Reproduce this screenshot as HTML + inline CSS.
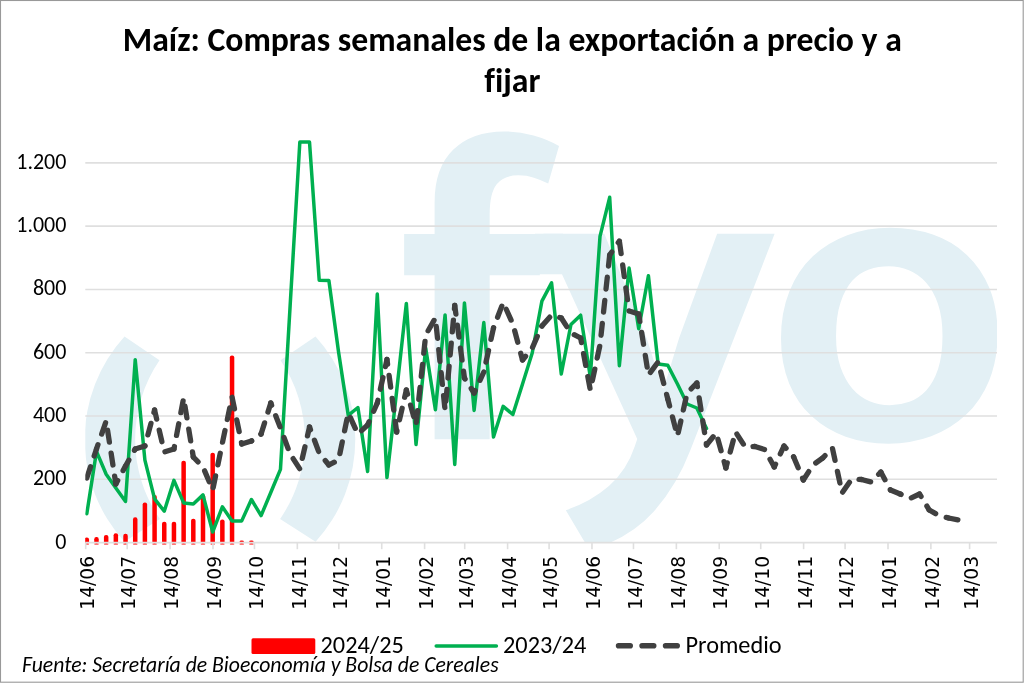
<!DOCTYPE html>
<html><head><meta charset="utf-8"><title>Maíz: Compras semanales</title>
<style>
html,body{margin:0;padding:0;background:#fff;}
body{width:1024px;height:683px;overflow:hidden;}
svg{display:block;font-variant-ligatures:none;font-kerning:normal;will-change:transform;}
.cal{font-family:Carlito,"Liberation Sans",sans-serif;}
.dj{font-family:"DejaVu Sans","Liberation Sans",sans-serif;}
</style></head><body>
<svg width="1024" height="683" viewBox="0 0 1024 683">
<rect x="0" y="0" width="1024" height="683" fill="#fff"/>

<defs><clipPath id="pc"><rect x="85.3" y="100" width="911.7" height="442.6"/></clipPath><clipPath id="pcb"><rect x="85.2" y="100" width="911.7" height="446"/></clipPath></defs>
<g fill="#E3F0F5" clip-path="url(#pc)">
<path d="M315.5,336.6 A152.3,152.3 0 0 1 315.6,541.8 L280.1,518.9 A140.3,140.3 0 0 0 280.5,360.3 Z"/>
<path d="M124.5,336.6 A152.3,152.3 0 0 0 124.4,541.8 L159.9,518.9 A140.3,140.3 0 0 1 159.5,360.3 Z"/>
<rect x="535" y="233.7" width="28" height="40.6"/>
<text transform="translate(397.4,439.3) scale(0.97,1)" font-family="Mukta, &quot;DejaVu Sans&quot;, sans-serif" font-weight="700" font-size="430.6">f</text>
<text transform="translate(539.7,439.3) scale(1.10,1)" font-family="Mukta, &quot;DejaVu Sans&quot;, sans-serif" font-weight="600" font-size="432.4">y</text>
<text transform="translate(764.8,439.3) scale(1.043,1.011)" font-family="Mukta, &quot;DejaVu Sans&quot;, sans-serif" font-weight="600" font-size="432.4">o</text>

</g>
<g stroke="#DFDFDF" stroke-width="1.6" fill="none">
<line x1="85.3" y1="479.31" x2="997" y2="479.31"/>
<line x1="85.3" y1="416.02" x2="997" y2="416.02"/>
<line x1="85.3" y1="352.73" x2="997" y2="352.73"/>
<line x1="85.3" y1="289.43" x2="997" y2="289.43"/>
<line x1="85.3" y1="226.14" x2="997" y2="226.14"/>
<line x1="85.3" y1="162.85" x2="997" y2="162.85"/>
</g>
<g fill="#FF0000" clip-path="url(#pcb)">
<rect x="84.55" y="537.50" width="4.5" height="5.90" rx="2.1" ry="2.1"/>
<rect x="84.55" y="543.3" width="4.5" height="1.5" rx="0.7" opacity="0.7"/>
<rect x="94.23" y="537.10" width="4.5" height="6.30" rx="2.1" ry="2.1"/>
<rect x="94.23" y="543.3" width="4.5" height="1.5" rx="0.7" opacity="0.7"/>
<rect x="103.92" y="535.00" width="4.5" height="8.40" rx="2.1" ry="2.1"/>
<rect x="103.92" y="543.3" width="4.5" height="1.5" rx="0.7" opacity="0.7"/>
<rect x="113.60" y="533.20" width="4.5" height="10.20" rx="2.1" ry="2.1"/>
<rect x="113.60" y="543.3" width="4.5" height="1.5" rx="0.7" opacity="0.7"/>
<rect x="123.28" y="533.80" width="4.5" height="9.60" rx="2.1" ry="2.1"/>
<rect x="123.28" y="543.3" width="4.5" height="1.5" rx="0.7" opacity="0.7"/>
<rect x="132.97" y="517.30" width="4.5" height="26.10" rx="2.1" ry="2.1"/>
<rect x="132.97" y="543.3" width="4.5" height="1.5" rx="0.7" opacity="0.7"/>
<rect x="142.65" y="502.40" width="4.5" height="41.00" rx="2.1" ry="2.1"/>
<rect x="142.65" y="543.3" width="4.5" height="1.5" rx="0.7" opacity="0.7"/>
<rect x="152.33" y="495.00" width="4.5" height="48.40" rx="2.1" ry="2.1"/>
<rect x="152.33" y="543.3" width="4.5" height="1.5" rx="0.7" opacity="0.7"/>
<rect x="162.01" y="521.70" width="4.5" height="21.70" rx="2.1" ry="2.1"/>
<rect x="162.01" y="543.3" width="4.5" height="1.5" rx="0.7" opacity="0.7"/>
<rect x="171.70" y="521.70" width="4.5" height="21.70" rx="2.1" ry="2.1"/>
<rect x="171.70" y="543.3" width="4.5" height="1.5" rx="0.7" opacity="0.7"/>
<rect x="181.38" y="460.70" width="4.5" height="82.70" rx="2.1" ry="2.1"/>
<rect x="181.38" y="543.3" width="4.5" height="1.5" rx="0.7" opacity="0.7"/>
<rect x="191.06" y="518.70" width="4.5" height="24.70" rx="2.1" ry="2.1"/>
<rect x="191.06" y="543.3" width="4.5" height="1.5" rx="0.7" opacity="0.7"/>
<rect x="200.75" y="494.50" width="4.5" height="48.90" rx="2.1" ry="2.1"/>
<rect x="200.75" y="543.3" width="4.5" height="1.5" rx="0.7" opacity="0.7"/>
<rect x="210.43" y="452.70" width="4.5" height="90.70" rx="2.1" ry="2.1"/>
<rect x="210.43" y="543.3" width="4.5" height="1.5" rx="0.7" opacity="0.7"/>
<rect x="220.11" y="519.50" width="4.5" height="23.90" rx="2.1" ry="2.1"/>
<rect x="220.11" y="543.3" width="4.5" height="1.5" rx="0.7" opacity="0.7"/>
<rect x="229.80" y="355.50" width="4.5" height="187.90" rx="2.1" ry="2.1"/>
<rect x="229.80" y="543.3" width="4.5" height="1.5" rx="0.7" opacity="0.7"/>
<rect x="239.48" y="540.50" width="4.5" height="2.90" rx="2.1" ry="2.1"/>
<rect x="239.48" y="543.3" width="4.5" height="1.5" rx="0.7" opacity="0.7"/>
<rect x="249.16" y="540.50" width="4.5" height="2.90" rx="2.1" ry="2.1"/>
<rect x="249.16" y="543.3" width="4.5" height="1.5" rx="0.7" opacity="0.7"/>
</g>
<g stroke="#DFDFDF" stroke-width="1.6" fill="none">
<line x1="85.3" y1="542.6" x2="997" y2="542.6"/>
<line x1="85.70" y1="542.6" x2="85.70" y2="549.2"/>
<line x1="127.20" y1="542.6" x2="127.20" y2="549.2"/>
<line x1="170.08" y1="542.6" x2="170.08" y2="549.2"/>
<line x1="212.96" y1="542.6" x2="212.96" y2="549.2"/>
<line x1="254.46" y1="542.6" x2="254.46" y2="549.2"/>
<line x1="297.34" y1="542.6" x2="297.34" y2="549.2"/>
<line x1="338.83" y1="542.6" x2="338.83" y2="549.2"/>
<line x1="381.72" y1="542.6" x2="381.72" y2="549.2"/>
<line x1="424.60" y1="542.6" x2="424.60" y2="549.2"/>
<line x1="464.71" y1="542.6" x2="464.71" y2="549.2"/>
<line x1="507.59" y1="542.6" x2="507.59" y2="549.2"/>
<line x1="549.09" y1="542.6" x2="549.09" y2="549.2"/>
<line x1="591.97" y1="542.6" x2="591.97" y2="549.2"/>
<line x1="633.47" y1="542.6" x2="633.47" y2="549.2"/>
<line x1="676.35" y1="542.6" x2="676.35" y2="549.2"/>
<line x1="719.23" y1="542.6" x2="719.23" y2="549.2"/>
<line x1="760.73" y1="542.6" x2="760.73" y2="549.2"/>
<line x1="803.61" y1="542.6" x2="803.61" y2="549.2"/>
<line x1="845.10" y1="542.6" x2="845.10" y2="549.2"/>
<line x1="887.99" y1="542.6" x2="887.99" y2="549.2"/>
<line x1="930.87" y1="542.6" x2="930.87" y2="549.2"/>
<line x1="969.60" y1="542.6" x2="969.60" y2="549.2"/>
</g>
<polyline fill="none" stroke="#00B050" stroke-width="3.5" stroke-linejoin="round" stroke-linecap="round" clip-path="url(#pc)" points="86.80,513.80 96.48,451.40 106.17,474.30 115.85,488.00 125.53,501.50 135.22,359.70 144.90,460.20 154.58,498.90 164.26,511.20 173.95,480.40 183.63,502.90 193.31,504.00 203.00,494.90 212.68,532.00 222.36,506.80 232.05,520.90 241.73,520.90 251.41,499.50 261.09,515.60 270.78,492.50 280.46,469.40 290.14,305.70 299.83,142.10 309.51,142.10 319.19,280.20 328.88,280.40 338.56,352.00 348.24,415.30 357.92,407.50 367.61,471.40 377.29,294.00 386.97,477.60 396.66,391.00 406.34,303.40 416.02,444.50 425.70,348.00 435.39,409.80 445.07,314.90 454.75,464.50 464.44,302.90 474.12,410.40 483.80,322.60 493.49,437.00 503.17,406.30 512.85,414.50 522.53,384.00 532.22,353.00 541.90,301.10 551.58,282.90 561.27,374.00 570.95,324.50 580.63,315.20 590.32,377.00 600.00,236.30 609.68,197.30 619.36,365.70 629.05,268.10 638.73,328.80 648.41,275.70 658.10,364.00 667.78,365.30 677.46,384.00 687.15,404.00 696.83,408.00 706.51,428.50"/>
<g fill="none" stroke="#404040" stroke-width="5.3" stroke-linecap="round" stroke-dasharray="11.9 11.3" clip-path="url(#pc)">
<line x1="86.80" y1="478.00" x2="96.48" y2="449.00" stroke-dashoffset="0.00"/>
<line x1="96.48" y1="449.00" x2="106.17" y2="421.00" stroke-dashoffset="30.57"/>
<line x1="106.17" y1="421.00" x2="115.85" y2="484.00" stroke-dashoffset="60.20"/>
<line x1="115.85" y1="484.00" x2="125.53" y2="466.00" stroke-dashoffset="123.94"/>
<line x1="125.53" y1="466.00" x2="135.22" y2="449.00" stroke-dashoffset="144.38"/>
<line x1="135.22" y1="449.00" x2="144.90" y2="446.00" stroke-dashoffset="163.94"/>
<line x1="144.90" y1="446.00" x2="154.58" y2="410.00" stroke-dashoffset="174.08"/>
<line x1="154.58" y1="410.00" x2="164.26" y2="452.00" stroke-dashoffset="211.36"/>
<line x1="164.26" y1="452.00" x2="173.95" y2="449.00" stroke-dashoffset="254.46"/>
<line x1="173.95" y1="449.00" x2="183.63" y2="398.00" stroke-dashoffset="264.60"/>
<line x1="183.63" y1="398.00" x2="193.31" y2="457.00" stroke-dashoffset="316.51"/>
<line x1="193.31" y1="457.00" x2="203.00" y2="467.00" stroke-dashoffset="376.30"/>
<line x1="203.00" y1="467.00" x2="212.68" y2="490.00" stroke-dashoffset="390.22"/>
<line x1="212.68" y1="490.00" x2="222.36" y2="443.00" stroke-dashoffset="415.17"/>
<line x1="222.36" y1="443.00" x2="232.05" y2="397.00" stroke-dashoffset="463.16"/>
<line x1="232.05" y1="397.00" x2="241.73" y2="444.00" stroke-dashoffset="510.17"/>
<line x1="241.73" y1="444.00" x2="251.41" y2="441.00" stroke-dashoffset="558.16"/>
<line x1="251.41" y1="441.00" x2="261.09" y2="434.00" stroke-dashoffset="568.29"/>
<line x1="261.09" y1="434.00" x2="270.78" y2="403.00" stroke-dashoffset="580.24"/>
<line x1="270.78" y1="403.00" x2="280.46" y2="428.00" stroke-dashoffset="612.72"/>
<line x1="280.46" y1="428.00" x2="290.14" y2="454.00" stroke-dashoffset="639.53"/>
<line x1="290.14" y1="454.00" x2="299.83" y2="469.00" stroke-dashoffset="667.27"/>
<line x1="299.83" y1="469.00" x2="309.51" y2="427.00" stroke-dashoffset="685.13"/>
<line x1="309.51" y1="427.00" x2="319.19" y2="453.00" stroke-dashoffset="728.23"/>
<line x1="319.19" y1="453.00" x2="328.88" y2="465.00" stroke-dashoffset="755.97"/>
<line x1="328.88" y1="465.00" x2="338.56" y2="460.00" stroke-dashoffset="771.39"/>
<line x1="338.56" y1="460.00" x2="348.24" y2="413.00" stroke-dashoffset="782.29"/>
<line x1="348.24" y1="413.00" x2="357.92" y2="434.00" stroke-dashoffset="830.28"/>
<line x1="357.92" y1="434.00" x2="367.61" y2="425.00" stroke-dashoffset="853.40"/>
<line x1="367.61" y1="425.00" x2="377.29" y2="403.00" stroke-dashoffset="866.62"/>
<line x1="377.29" y1="403.00" x2="386.97" y2="359.50" stroke-dashoffset="890.66"/>
<line x1="386.97" y1="359.50" x2="396.66" y2="432.00" stroke-dashoffset="935.22"/>
<line x1="396.66" y1="432.00" x2="406.34" y2="390.00" stroke-dashoffset="1008.37"/>
<line x1="406.34" y1="390.00" x2="416.02" y2="425.00" stroke-dashoffset="1051.47"/>
<line x1="416.02" y1="425.00" x2="425.70" y2="335.00" stroke-dashoffset="1087.78"/>
<line x1="425.70" y1="335.00" x2="435.39" y2="318.00" stroke-dashoffset="1178.30"/>
<line x1="435.39" y1="318.00" x2="445.07" y2="410.00" stroke-dashoffset="1197.87"/>
<line x1="445.07" y1="410.00" x2="454.75" y2="305.50" stroke-dashoffset="1290.38"/>
<line x1="454.75" y1="305.50" x2="464.44" y2="378.00" stroke-dashoffset="1395.32"/>
<line x1="464.44" y1="378.00" x2="474.12" y2="393.00" stroke-dashoffset="1472.33"/>
<line x1="474.12" y1="393.00" x2="483.80" y2="372.00" stroke-dashoffset="1494.05"/>
<line x1="483.80" y1="372.00" x2="493.49" y2="328.00" stroke-dashoffset="1521.05"/>
<line x1="493.49" y1="328.00" x2="503.17" y2="302.50" stroke-dashoffset="1566.10"/>
<line x1="503.17" y1="302.50" x2="512.85" y2="324.00" stroke-dashoffset="1593.38"/>
<line x1="512.85" y1="324.00" x2="522.53" y2="360.00" stroke-dashoffset="1616.96"/>
<line x1="522.53" y1="360.00" x2="532.22" y2="348.00" stroke-dashoffset="1654.24"/>
<line x1="532.22" y1="348.00" x2="541.90" y2="326.00" stroke-dashoffset="1669.65"/>
<line x1="541.90" y1="326.00" x2="551.58" y2="315.00" stroke-dashoffset="1693.69"/>
<line x1="551.58" y1="315.00" x2="561.27" y2="318.00" stroke-dashoffset="1708.35"/>
<line x1="561.27" y1="318.00" x2="570.95" y2="333.00" stroke-dashoffset="1718.48"/>
<line x1="570.95" y1="333.00" x2="580.63" y2="338.00" stroke-dashoffset="1736.34"/>
<line x1="580.63" y1="338.00" x2="590.32" y2="390.00" stroke-dashoffset="1747.23"/>
<line x1="590.32" y1="390.00" x2="600.00" y2="345.00" stroke-dashoffset="1800.13"/>
<line x1="600.00" y1="345.00" x2="609.68" y2="255.00" stroke-dashoffset="1846.16"/>
<line x1="609.68" y1="255.00" x2="619.36" y2="241.00" stroke-dashoffset="1933.78"/>
<line x1="619.36" y1="241.00" x2="629.05" y2="311.00" stroke-dashoffset="1947.90"/>
<line x1="629.05" y1="311.00" x2="638.73" y2="314.00" stroke-dashoffset="2015.67"/>
<line x1="638.73" y1="314.00" x2="648.41" y2="375.00" stroke-dashoffset="2022.90"/>
<line x1="648.41" y1="375.00" x2="658.10" y2="362.00" stroke-dashoffset="2084.67"/>
<line x1="658.10" y1="362.00" x2="667.78" y2="399.00" stroke-dashoffset="2100.88"/>
<line x1="667.78" y1="399.00" x2="677.46" y2="436.00" stroke-dashoffset="2139.12"/>
<line x1="677.46" y1="436.00" x2="687.15" y2="393.00" stroke-dashoffset="2177.37"/>
<line x1="687.15" y1="393.00" x2="696.83" y2="383.00" stroke-dashoffset="2221.45"/>
<line x1="696.83" y1="383.00" x2="706.51" y2="445.00" stroke-dashoffset="2235.37"/>
<line x1="706.51" y1="445.00" x2="716.19" y2="433.00" stroke-dashoffset="2298.12"/>
<line x1="716.19" y1="433.00" x2="725.88" y2="468.00" stroke-dashoffset="2313.54"/>
<line x1="725.88" y1="468.00" x2="735.56" y2="432.00" stroke-dashoffset="2349.85"/>
<line x1="735.56" y1="432.00" x2="745.24" y2="447.00" stroke-dashoffset="2387.13"/>
<line x1="745.24" y1="447.00" x2="754.93" y2="446.50" stroke-dashoffset="2404.99"/>
<line x1="754.93" y1="446.50" x2="764.61" y2="449.50" stroke-dashoffset="2414.68"/>
<line x1="764.61" y1="449.50" x2="774.29" y2="467.00" stroke-dashoffset="2424.82"/>
<line x1="774.29" y1="467.00" x2="783.98" y2="446.00" stroke-dashoffset="2444.82"/>
<line x1="783.98" y1="446.00" x2="793.66" y2="457.00" stroke-dashoffset="2467.94"/>
<line x1="793.66" y1="457.00" x2="803.34" y2="480.00" stroke-dashoffset="2482.60"/>
<line x1="803.34" y1="480.00" x2="813.02" y2="465.00" stroke-dashoffset="2507.55"/>
<line x1="813.02" y1="465.00" x2="822.71" y2="458.00" stroke-dashoffset="2525.41"/>
<line x1="822.71" y1="458.00" x2="832.39" y2="448.00" stroke-dashoffset="2537.36"/>
<line x1="832.39" y1="448.00" x2="842.07" y2="493.00" stroke-dashoffset="2551.28"/>
<line x1="842.07" y1="493.00" x2="851.76" y2="479.00" stroke-dashoffset="2597.31"/>
<line x1="851.76" y1="479.00" x2="861.44" y2="479.50" stroke-dashoffset="2614.33"/>
<line x1="861.44" y1="479.50" x2="871.12" y2="482.00" stroke-dashoffset="2624.02"/>
<line x1="871.12" y1="482.00" x2="880.81" y2="472.00" stroke-dashoffset="2634.02"/>
<line x1="880.81" y1="472.00" x2="890.49" y2="490.00" stroke-dashoffset="2647.94"/>
<line x1="890.49" y1="490.00" x2="900.17" y2="494.00" stroke-dashoffset="2668.38"/>
<line x1="900.17" y1="494.00" x2="909.85" y2="498.50" stroke-dashoffset="2678.86"/>
<line x1="909.85" y1="498.50" x2="919.54" y2="494.00" stroke-dashoffset="2689.54"/>
<line x1="919.54" y1="494.00" x2="929.22" y2="510.00" stroke-dashoffset="2700.21"/>
<line x1="929.22" y1="510.00" x2="938.90" y2="515.50" stroke-dashoffset="2718.92"/>
<line x1="938.90" y1="515.50" x2="948.59" y2="518.00" stroke-dashoffset="2730.05"/>
<line x1="948.59" y1="518.00" x2="958.27" y2="520.00" stroke-dashoffset="2740.05"/>
</g>
<g class="cal" font-size="22" fill="#000" text-anchor="end">
<text x="66.4" y="548.65">0</text>
<text x="66.4" y="485.36">200</text>
<text x="66.4" y="422.07">400</text>
<text x="66.4" y="358.78">600</text>
<text x="66.4" y="295.48">800</text>
<text x="66.4" y="232.19">1.000</text>
<text x="66.4" y="168.90">1.200</text>
</g>
<g class="dj" font-size="18.7" fill="#000" text-anchor="end">
<text transform="translate(93.90,555.9) rotate(-90)">14/06</text>
<text transform="translate(135.40,555.9) rotate(-90)">14/07</text>
<text transform="translate(178.28,555.9) rotate(-90)">14/08</text>
<text transform="translate(221.16,555.9) rotate(-90)">14/09</text>
<text transform="translate(262.66,555.9) rotate(-90)">14/10</text>
<text transform="translate(305.54,555.9) rotate(-90)">14/11</text>
<text transform="translate(347.03,555.9) rotate(-90)">14/12</text>
<text transform="translate(389.92,555.9) rotate(-90)">14/01</text>
<text transform="translate(432.80,555.9) rotate(-90)">14/02</text>
<text transform="translate(472.91,555.9) rotate(-90)">14/03</text>
<text transform="translate(515.79,555.9) rotate(-90)">14/04</text>
<text transform="translate(557.29,555.9) rotate(-90)">14/05</text>
<text transform="translate(600.17,555.9) rotate(-90)">14/06</text>
<text transform="translate(641.67,555.9) rotate(-90)">14/07</text>
<text transform="translate(684.55,555.9) rotate(-90)">14/08</text>
<text transform="translate(727.43,555.9) rotate(-90)">14/09</text>
<text transform="translate(768.93,555.9) rotate(-90)">14/10</text>
<text transform="translate(811.81,555.9) rotate(-90)">14/11</text>
<text transform="translate(853.30,555.9) rotate(-90)">14/12</text>
<text transform="translate(896.19,555.9) rotate(-90)">14/01</text>
<text transform="translate(939.07,555.9) rotate(-90)">14/02</text>
<text transform="translate(977.80,555.9) rotate(-90)">14/03</text>
</g>
<rect x="251.5" y="638.2" width="63.8" height="15.8" rx="1.5" fill="#FF0000"/>
<text class="cal" x="320.5" y="653" font-size="24.3">2024/25</text>
<line x1="436.2" y1="646" x2="496.4" y2="646" stroke="#00B050" stroke-width="3.5" stroke-linecap="round"/>
<text class="cal" x="503" y="653" font-size="24.3">2023/24</text>
<line x1="618.6" y1="645.8" x2="679" y2="645.8" stroke="#404040" stroke-width="5.6" stroke-linecap="round" stroke-dasharray="11.6 11.9"/>
<text class="cal" x="685.5" y="653" font-size="24.3">Promedio</text>
<text class="cal" x="22" y="672" font-size="21.7" font-style="italic">Fuente: Secretaría de Bioeconomía y Bolsa de Cereales</text>
<text class="cal" x="512.3" y="50.7" font-size="33.7" font-weight="bold" text-anchor="middle">Maíz: Compras semanales de la exportación a precio y a</text>
<text class="cal" x="512.3" y="91.6" font-size="33.7" font-weight="bold" text-anchor="middle">fijar</text>
<rect x="0.5" y="0.5" width="1022.7" height="681.7" fill="none" stroke="#999" stroke-width="1.1"/>
</svg></body></html>
